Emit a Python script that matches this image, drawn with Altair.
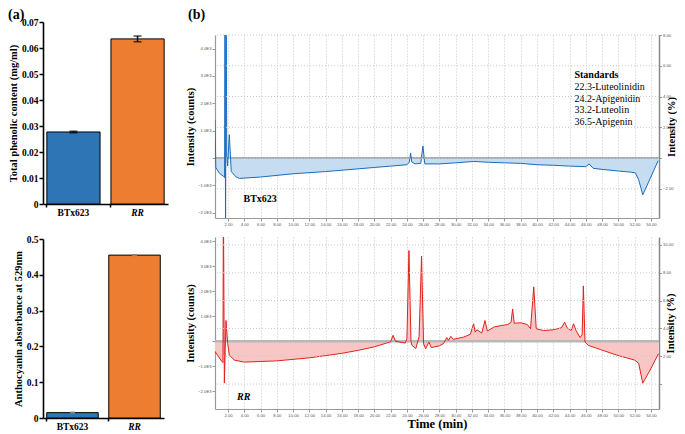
import altair as alt
import pandas as pd

# ---------------- data ----------------
bar_cats = ["BTx623", "RR"]
bar_colors = ["#2e75b6", "#ed7d31"]
phenolic = [0.0277, 0.0635]
phenolic_err = [0.0003, 0.0011]
antho = [0.015, 0.455]
antho_err = [0.003, 0.003]

# chromatogram traces (time in min, intensity in 1E3 counts)
btx_time = [0.40, 0.50, 0.93, 1.47, 1.58, 1.63, 1.70, 1.77, 1.85, 1.95, 2.16, 2.40, 3.0, 3.4,
            6.0, 10.0, 14.0, 18.0, 20.0, 22.0, 24.0, 24.3, 24.45, 24.6, 25.0, 25.7, 25.97, 26.2,
            28.0, 30.0, 32.2, 34.0, 36.0, 38.0, 40.0, 42.0, 44.0, 46.0, 46.4, 46.9, 48.0, 50.0,
            51.5, 52.1, 52.5, 53.0, 54.0, 54.9]
btx_counts = [1.40, -0.35, -0.56, -0.68, -0.72, 6.0, -3.0, 6.0, 0.1, -0.3, 0.85, -0.50, -0.70, -0.75,
              -0.70, -0.58, -0.50, -0.40, -0.35, -0.30, -0.25, -0.15, 0.18, -0.15, -0.22, -0.20, 0.44, -0.22,
              -0.22, -0.18, -0.13, -0.16, -0.18, -0.20, -0.25, -0.27, -0.30, -0.32, -0.22, -0.38, -0.42, -0.48,
              -0.52, -0.55, -0.80, -1.35, -0.70, -0.10]

rr_time = [0.30, 1.23, 1.38, 1.43, 1.55, 1.75, 1.96, 2.16, 2.78, 4.0, 8.0, 12.0, 16.0, 18.0, 20.0,
           22.0, 22.3, 22.6, 23.8, 24.0, 24.25, 24.5, 24.6, 25.1, 25.5, 25.8, 26.05, 26.3, 26.7, 27.0,
           28.0, 28.5, 28.9, 29.1, 29.4, 29.7, 31.0, 31.8, 32.2, 32.4, 32.6, 33.2, 33.6, 33.9, 34.7,
           35.6, 36.4, 36.8, 37.0, 37.2, 38.0, 38.8, 39.2, 39.6, 39.9, 40.8, 42.0, 43.0, 43.4, 43.7,
           44.2, 44.5, 44.8, 45.3, 45.55, 45.7, 45.9, 46.3, 47.8, 49.8, 52.0, 52.5, 53.0, 53.9, 54.95]
rr_counts = [-0.36, -0.80, -0.85, 6.0, -1.66, 0.83, -0.08, -0.55, -0.75, -0.83, -0.78, -0.66, -0.48, -0.36, -0.22,
             -0.02, 0.24, 0.0, -0.07, 0.10, 3.62, 0.0, -0.15, -0.29, 0.20, 3.40, -0.10, -0.30, -0.03, -0.25,
             -0.18, -0.09, 0.15, 0.04, 0.20, 0.08, 0.17, 0.28, 0.70, 0.37, 0.46, 0.33, 0.83, 0.41, 0.57,
             0.63, 0.67, 0.75, 1.29, 0.72, 0.74, 0.67, 0.50, 2.17, 0.50, 0.43, 0.46, 0.54, 0.76, 0.54,
             0.43, 0.70, 0.43, 0.15, 0.26, 2.21, -0.03, -0.16, -0.33, -0.55, -0.75, -0.88, -1.67, -1.15, -0.49]

time_ticks = list(range(2, 56, 2))
left_ticks = [-2, -1, 0, 1, 2, 3, 4]
top_right_ticks = [-2, 0, 2, 4, 6, 8]
bot_right_ticks = [0, 2, 4, 6, 8, 10]

standards_lines = ["Standards", "22.3-Luteolinidin", "24.2-Apigenidin", "33.2-Luteolin", "36.5-Apigenin"]
standards_t = 44.6
standards_v = [3.04, 2.60, 2.17, 1.74, 1.31]

SERIF = "Liberation Serif"
SANS = "Liberation Sans"
SMALL = 4.2
NOVIEW = {"stroke": "transparent", "strokeWidth": 0}


def panel_letter(txt, dx):
    return alt.Chart(pd.DataFrame({"txt": [txt]})).mark_text(
        font=SERIF, fontSize=14, fontWeight="bold", color="black", align="left", baseline="middle").encode(
        text="txt:N", x=alt.value(dx), y=alt.value(-7))


# ---------------- bar charts ----------------
def bar_chart(values, errs, domain, ticks, ytitle, width, height, err_color, err_width, caps, letter=None):
    df = pd.DataFrame({
        "cat": bar_cats,
        "val": values,
        "lo": [v - e for v, e in zip(values, errs)],
        "hi": [v + e for v, e in zip(values, errs)],
    })
    xaxis = alt.Axis(title=None, labelAngle=0, labelFont=SERIF, labelFontSize=9.5,
                     labelFontWeight="bold", labelColor="black",
                     labelFontStyle={"condition": {"test": "datum.value == 'RR'", "value": "italic"},
                                     "value": "normal"},
                     domainColor="black", domainWidth=1.6, tickColor="black", tickWidth=1.5,
                     tickSize=3, labelPadding=0, bandPosition=0)
    yaxis = alt.Axis(values=ticks, format="~g", title=ytitle, labelFont=SERIF, labelFontSize=9.5,
                     labelFontWeight="bold", labelColor="black", titleFont=SERIF, titleFontSize=10.5,
                     titleFontWeight="bold", titleColor="black", domainColor="black", domainWidth=1.6,
                     tickColor="black", tickWidth=1.5, tickSize=4, labelPadding=1, titlePadding=3,
                     grid=False, labelOverlap=False)
    xsc = alt.Scale(paddingInner=0.17, paddingOuter=0.06)
    ysc = alt.Scale(domain=domain, nice=False)
    x = alt.X("cat:N", sort=bar_cats, scale=xsc, axis=xaxis)
    base = alt.Chart(df)
    bars = base.mark_bar(stroke="black", strokeWidth=1).encode(
        x=x, y=alt.Y("val:Q", scale=ysc, axis=yaxis),
        color=alt.Color("cat:N", scale=alt.Scale(domain=bar_cats, range=bar_colors), legend=None))
    rule = base.mark_rule(color=err_color, strokeWidth=err_width).encode(
        x=x, y=alt.Y("lo:Q", scale=ysc, axis=yaxis), y2="hi:Q")
    layers = [bars, rule]
    if caps:
        layers.append(base.mark_tick(color=err_color, thickness=1.5, size=8).encode(
            x=x, y=alt.Y("lo:Q", scale=ysc, axis=yaxis)))
        layers.append(base.mark_tick(color=err_color, thickness=1.5, size=8).encode(
            x=x, y=alt.Y("hi:Q", scale=ysc, axis=yaxis)))
    if letter is not None:
        layers.append(panel_letter(letter, -35))
    return alt.layer(*layers).properties(width=width, height=height, view=NOVIEW)


bar_top = bar_chart(phenolic, phenolic_err, [0, 0.07], [0, 0.01, 0.02, 0.03, 0.04, 0.05, 0.06, 0.07],
                    "Total phenolic content  (mg/ml)", 125, 182, "black", 1.5, True, letter="(a)")
bar_bot = bar_chart(antho, antho_err, [0, 0.5], [0, 0.1, 0.2, 0.3, 0.4, 0.5],
                    "Anthocyanin absorbance at 529nm", 121, 179, "#808080", 5, False)

left_col = alt.vconcat(bar_top, bar_bot, spacing=17)


# ---------------- chromatograms ----------------
def chrom(time, counts, left_dom, right_dom, right_ticks, line_color, fill_color, base_color, base_width,
          height, label, label_t, label_v, label_style, xtitle, standards=False):
    df = pd.DataFrame({"t": time, "v": counts})
    xs = alt.Scale(domain=[0.4, 55], nice=False, zero=False)
    xaxis = alt.Axis(values=time_ticks, format=".2f", labelFont=SANS, labelFontSize=SMALL, labelColor="#555",
                     tickSize=3, tickColor="#999", domainColor="#999", labelPadding=1, labelFlush=False,
                     labelOverlap=False, grid=True, gridDash=[1, 2], gridColor="#c8c8c8",
                     title=xtitle if xtitle else None, titleFont=SERIF, titleFontSize=12.5,
                     titleFontWeight="bold", titleColor="black", titlePadding=0)
    ys = alt.Scale(domain=left_dom, nice=False, zero=False)
    yaxis = alt.Axis(values=left_ticks,
                     labelExpr="datum.value == 0 ? '' : format(datum.value, '.1f') + 'E3'",
                     labelFont=SANS, labelFontSize=SMALL, labelColor="#555", tickSize=3, tickColor="#999",
                     domainColor="#999", domainWidth=1.2, grid=False, labelOverlap=False,
                     title="Intensity (counts)", titleFont=SERIF, titleFontSize=10.5, titleFontWeight="bold",
                     titleColor="black", titlePadding=2, labelPadding=1)
    X = alt.X("t:Q", scale=xs, axis=xaxis)
    Y = alt.Y("v:Q", scale=ys, axis=yaxis)
    base = alt.Chart(df)
    area = base.mark_area(color=fill_color, opacity=1, clip=True).encode(x=X, y=Y, y2=alt.datum(0))
    line = base.mark_line(color=line_color, strokeWidth=1, clip=True).encode(x=X, y=Y)
    zero_line = alt.Chart(pd.DataFrame({"v": [0]})).mark_rule(color=base_color, strokeWidth=base_width).encode(
        y=Y)
    lab = alt.Chart(pd.DataFrame({"t": [label_t], "v": [label_v], "txt": [label]})).mark_text(
        font=SERIF, fontSize=10, fontWeight="bold", fontStyle=label_style, color="black", align="left").encode(
        x=X, y=Y, text="txt:N")
    left_layers = [area, zero_line, line, lab]
    if standards:
        sdf = pd.DataFrame({"t": [standards_t] * len(standards_lines), "v": standards_v,
                            "txt": standards_lines})
        st_bold = alt.Chart(sdf.iloc[:1]).mark_text(font=SERIF, fontSize=10, fontWeight="bold",
                                                    color="black", align="left").encode(
            x=X, y=Y, text="txt:N")
        st_norm = alt.Chart(sdf.iloc[1:]).mark_text(font=SERIF, fontSize=10, color="black",
                                                    align="left").encode(
            x=X, y=Y, text="txt:N")
        left_layers += [st_bold, st_norm]
    left = alt.layer(*left_layers)
    right = alt.Chart(pd.DataFrame({"r": right_ticks})).mark_rule(
        color="#c8c8c8", strokeDash=[1, 2], strokeWidth=1).encode(
        y=alt.Y("r:Q", scale=alt.Scale(domain=right_dom, nice=False, zero=False),
                axis=alt.Axis(orient="right", values=right_ticks,
                              labelExpr="datum.value == 0 ? '' : format(datum.value, '.2f')",
                              labelFont=SANS, labelFontSize=SMALL, labelColor="#555", tickSize=2.5,
                              tickColor="#999", domainColor="#888", domainWidth=1.5, grid=False,
                              labelOverlap=False,
                              title="Intensity (%)", titleAngle=270, titleFont=SERIF, titleFontSize=10.5,
                              titleFontWeight="bold", titleColor="black", titlePadding=3, labelPadding=1)))
    return alt.layer(left, right).resolve_scale(y="independent").properties(
        width=444, height=height, view=NOVIEW)


chrom_top = chrom(btx_time, btx_counts, [-2.2, 4.5], [-3.9, 8.0], top_right_ticks,
                  "#1a6cc0", "#c6dcf0", "#8a8a8a", 1.2, 183, "BTx623", 3.9, -1.5, "normal", None,
                  standards=True)
chrom_bot = chrom(rr_time, rr_counts, [-2.7, 4.16], [-1.79, 10.57], bot_right_ticks,
                  "#e3201b", "#f9c6c6", "#b8b8b8", 2.5, 172, "RR", 3.1, -2.21, "italic", "Time (min)")

spacer_b = panel_letter("(b)", -27).properties(width=40, height=11, view=NOVIEW)

right_col = alt.vconcat(spacer_b, alt.vconcat(chrom_top, chrom_bot, spacing=10), spacing=0)

chart = alt.hconcat(left_col, right_col, spacing=17).properties(
    padding={"left": 0, "top": 0, "right": 0, "bottom": 0}
).configure_view(stroke="transparent").configure(background="white")

chart.save("out.html", embed_options={"renderer": "svg", "actions": False})
